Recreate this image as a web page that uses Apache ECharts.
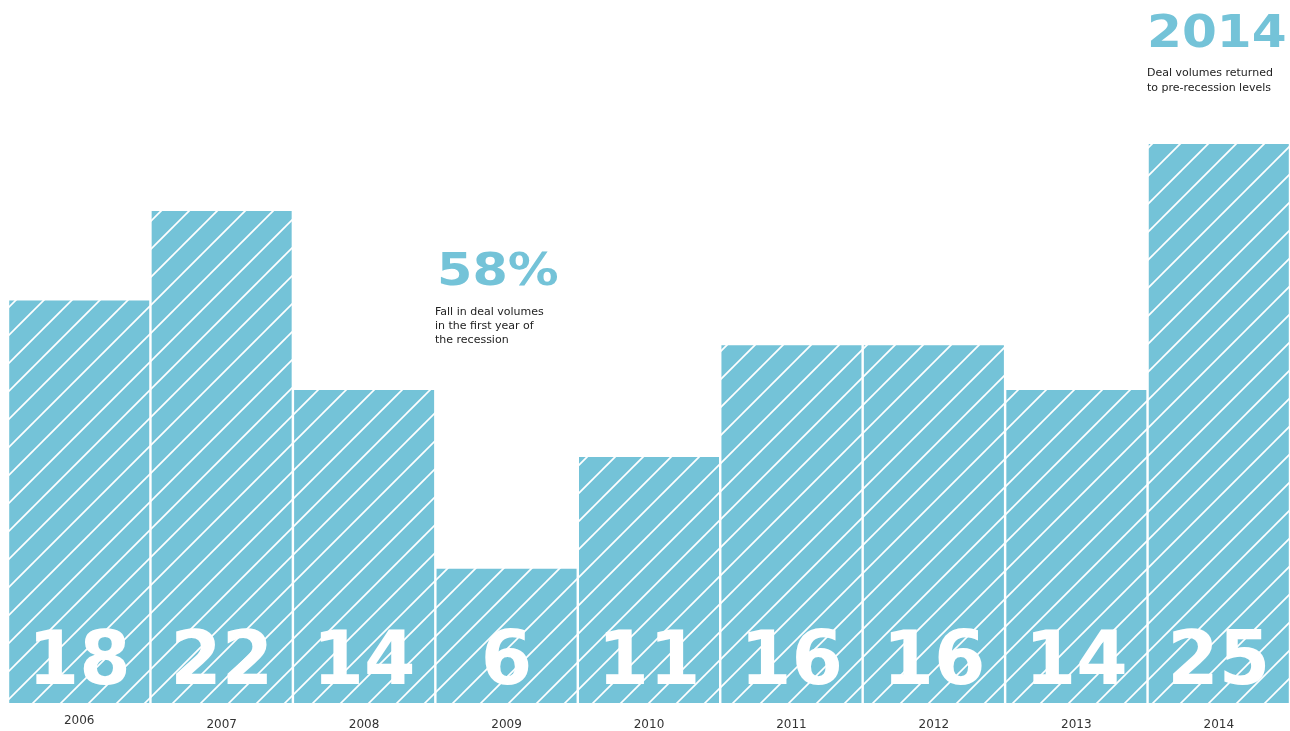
<!DOCTYPE html>
<html>
<head>
<meta charset="utf-8">
<script src="https://cdn.jsdelivr.net/npm/echarts@6/dist/echarts.min.js"></script>
<style>
html,body{margin:0;padding:0;background:#fff;}
#chart{width:1290px;height:731px;}
</style>
</head>
<body>
<div id="chart"></div>
<script>
const years = ['2006','2007','2008','2009','2010','2011','2012','2013','2014'];
const dealVolumes = [18, 22, 14, 6, 11, 16, 16, 14, 25];
const annotation1Big = '58%';
const annotation1Text = ['Fall in deal volumes', 'in the first year of', 'the recession'];
const annotation2Big = '2014';
const annotation2Text = ['Deal volumes returned', 'to pre-recession levels'];

const BLUE = '#74c3d8';

function makeHatch() {
  const s = 28;
  const c = document.createElement('canvas');
  c.width = s; c.height = s;
  const ctx = c.getContext('2d');
  ctx.fillStyle = BLUE;
  ctx.fillRect(0, 0, s, s);
  ctx.strokeStyle = '#ffffff';
  ctx.lineWidth = 1.7;
  const off = 8;
  for (const k of [-1, 0, 1, 2]) {
    const cc = off + k * s;
    ctx.beginPath();
    ctx.moveTo(cc + 6, -6);
    ctx.lineTo(cc - s - 6, s + 6);
    ctx.stroke();
  }
  return c;
}

const chart = echarts.init(document.getElementById('chart'), null, {renderer: 'canvas'});
const hatch = makeHatch();

const option = {
  animation: false,
  backgroundColor: '#ffffff',
  grid: {left: 8, right: 0, top: 144, bottom: 28, containLabel: false},
  xAxis: {
    type: 'category',
    data: years,
    axisLine: {show: false},
    axisTick: {show: false},
    axisLabel: {
      margin: 12,
      color: '#333',
      fontFamily: 'DejaVu Sans',
      fontSize: 12,
      formatter: function (v, i) { return i === 0 ? '{a|' + v + '}' : '{b|' + v + '}'; },
      rich: {
        a: {color: '#333', fontFamily: 'DejaVu Sans', fontSize: 12},
        b: {color: '#333', fontFamily: 'DejaVu Sans', fontSize: 12, padding: [4, 0, 0, 0]}
      }
    }
  },
  yAxis: {
    type: 'value',
    min: 0,
    max: 25,
    show: false,
    splitLine: {show: false}
  },
  series: [{
    type: 'bar',
    data: dealVolumes,
    barWidth: 140,
    itemStyle: {color: {image: hatch, repeat: 'repeat'}},
    label: {
      show: true,
      position: 'insideBottom',
      distance: 1,
      color: '#ffffff',
      fontFamily: 'DejaVu Sans',
      fontWeight: 'bold',
      fontSize: 74
    }
  }],
  graphic: [
    {
      type: 'text', x: 437, y: 251, scaleX: 1.13,
      style: {text: annotation1Big, font: 'bold 45px "DejaVu Sans"', fill: BLUE, verticalAlign: 'top'}
    },
    {
      type: 'text', x: 435, y: 305,
      style: {text: annotation1Text.join('\n'), font: '11px "DejaVu Sans"', lineHeight: 14, fill: '#222', verticalAlign: 'top'}
    },
    {
      type: 'text', x: 1147, y: 14, scaleX: 1.14,
      style: {text: annotation2Big, font: 'bold 44px "DejaVu Sans"', fill: BLUE, verticalAlign: 'top'}
    },
    {
      type: 'text', x: 1147, y: 66,
      style: {text: annotation2Text.join('\n'), font: '11px "DejaVu Sans"', lineHeight: 15, fill: '#222', verticalAlign: 'top'}
    }
  ]
};
chart.setOption(option);
</script>
</body>
</html>
